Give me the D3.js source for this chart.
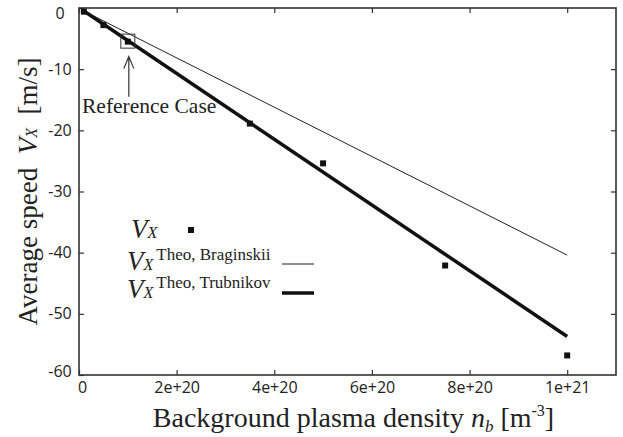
<!DOCTYPE html>
<html>
<head>
<meta charset="utf-8">
<script src="https://cdn.jsdelivr.net/npm/d3@7"></script>
<style>
  body { margin: 0; background: #fff; }
  svg { display: block; }
  .tick text { font-family: "Open Sans", sans-serif; font-size: 16px; fill: #222; }
  .serif { font-family: "Liberation Serif", "Times New Roman", serif; fill: #222; }
</style>
</head>
<body>
<svg id="chart"></svg>
<script>
// chart size
const width = 623;
const height = 437;
const margin = { top: 8, right: 7, bottom: 62, left: 79 };

// measured points (density in m^-3, speed in m/s)
const density = [1e19, 5e19, 1e20, 3.5e20, 5e20, 7.5e20, 1e21];
const speed = [-0.6, -2.8, -5.5, -18.9, -25.4, -42.1, -56.8];

// theory lines (end points)
const theoDensity = [1e19, 1e21];
const braginskii = [-0.5, -40.4];
const trubnikov = [-0.5, -53.7];

// ticks
const xTicks = [0, 2e20, 4e20, 6e20, 8e20, 1e21];
const yTicks = [0, -10, -20, -30, -40, -50, -60];

// reference case
const refDensity = 1e20;
const refSpeed = -5.5;

const svg = d3.select("#chart")
    .attr("width", width)
    .attr("height", height);

const x = d3.scaleLinear()
    .domain([0, 1.1e21])
    .range([margin.left, width - margin.right]);

const y = d3.scaleLinear()
    .domain([-60, 0])
    .range([height - margin.bottom, margin.top]);

const fmtX = d => d === 0 ? "0" : d.toExponential();

// bottom axis with labels, inward ticks
const gx = svg.append("g")
    .attr("transform", `translate(0,${height - margin.bottom})`)
    .call(d3.axisBottom(x).tickValues(xTicks).tickFormat(fmtX)
        .tickSizeInner(-5).tickSizeOuter(0).tickPadding(7));
gx.selectAll(".tick").filter(d => d === 0).select("text").attr("dx", 3);

// left axis (plain hyphen for minus, labels centred like the original)
const gy = svg.append("g")
    .attr("transform", `translate(${margin.left},0)`)
    .call(d3.axisLeft(y).tickValues(yTicks).tickFormat(d => String(d))
        .tickSizeInner(-5).tickSizeOuter(0).tickPadding(19));
gy.selectAll(".tick text").attr("text-anchor", "middle");
gy.selectAll(".tick").filter(d => d === 0).select("text").attr("dy", "0.65em");
gy.selectAll(".tick").filter(d => d === -60).select("text").attr("dy", "0.1em");

// top and right axes, ticks only
svg.append("g")
    .attr("transform", `translate(0,${margin.top})`)
    .call(d3.axisTop(x).tickValues(xTicks).tickFormat("")
        .tickSizeInner(-5).tickSizeOuter(0));
svg.append("g")
    .attr("transform", `translate(${width - margin.right},0)`)
    .call(d3.axisRight(y).tickValues(yTicks.slice(1, -1)).tickFormat("")
        .tickSizeInner(-5).tickSizeOuter(0));

svg.selectAll(".domain").remove();
svg.selectAll(".tick line").attr("stroke", "#333").attr("stroke-width", 1.2);

// frame
svg.append("rect")
    .attr("x", margin.left)
    .attr("y", margin.top)
    .attr("width", width - margin.left - margin.right)
    .attr("height", height - margin.top - margin.bottom)
    .attr("fill", "none")
    .attr("stroke", "#333")
    .attr("stroke-width", 1.6);

// theory lines
const line = d3.line()
    .x(d => x(d[0]))
    .y(d => y(d[1]));

svg.append("path")
    .datum(d3.zip(theoDensity, braginskii))
    .attr("d", line)
    .attr("fill", "none")
    .attr("stroke", "#222")
    .attr("stroke-width", 1);

svg.append("path")
    .datum(d3.zip(theoDensity, trubnikov))
    .attr("d", line)
    .attr("fill", "none")
    .attr("stroke", "#111")
    .attr("stroke-width", 3.5);

// data points
const ms = 6;
svg.selectAll(".pt")
    .data(d3.zip(density, speed))
    .enter()
    .append("rect")
    .attr("class", "pt")
    .attr("x", d => x(d[0]) - ms / 2)
    .attr("y", d => y(d[1]) - ms / 2)
    .attr("width", ms)
    .attr("height", ms)
    .attr("fill", "#111");

// reference case annotation
const rx = x(refDensity), ry = y(refSpeed);
svg.append("rect")
    .attr("x", rx - 7)
    .attr("y", ry - 7.5)
    .attr("width", 14)
    .attr("height", 14)
    .attr("fill", "none")
    .attr("stroke", "#333")
    .attr("stroke-width", 1);

const ax = rx + 1;
svg.append("path")
    .attr("d", `M${ax},${ry + 55} L${ax},${ry + 15} M${ax - 5},${ry + 27} L${ax},${ry + 15} L${ax + 5},${ry + 27}`)
    .attr("fill", "none")
    .attr("stroke", "#333")
    .attr("stroke-width", 1.2);

svg.append("text")
    .attr("class", "serif")
    .attr("x", 82)
    .attr("y", 113)
    .attr("font-size", 21.5)
    .text("Reference Case");

// legend
const legendRows = [
    { sup: "", y: 238, vx: 131 },
    { sup: "Theo, Braginskii", y: 270, vx: 127 },
    { sup: "Theo, Trubnikov", y: 298, vx: 127 }
];

legendRows.forEach(r => {
    const t = svg.append("text")
        .attr("class", "serif")
        .attr("x", r.vx)
        .attr("y", r.y);
    t.append("tspan").attr("font-size", 27).attr("font-style", "italic").text("V");
    t.append("tspan").attr("font-size", 16).attr("font-style", "italic").text("X");
    if (r.sup) {
        t.append("tspan").attr("font-size", 17).attr("dx", 3).attr("dy", -10).text(r.sup);
    }
});

svg.append("rect")
    .attr("x", 191 - ms / 2)
    .attr("y", 230 - ms / 2)
    .attr("width", ms)
    .attr("height", ms)
    .attr("fill", "#111");

svg.append("line")
    .attr("x1", 282).attr("x2", 314)
    .attr("y1", 264).attr("y2", 264)
    .attr("stroke", "#444")
    .attr("stroke-width", 1.2);

svg.append("line")
    .attr("x1", 282).attr("x2", 314)
    .attr("y1", 293).attr("y2", 293)
    .attr("stroke", "#111")
    .attr("stroke-width", 3.5);

// axis titles
const xt = svg.append("text")
    .attr("class", "serif")
    .attr("x", (margin.left + width - margin.right) / 2 + 6)
    .attr("y", 427)
    .attr("text-anchor", "middle")
    .attr("font-size", 28);
xt.append("tspan").text("Background plasma density ");
xt.append("tspan").attr("font-style", "italic").text("n");
xt.append("tspan").attr("font-style", "italic").attr("font-size", 17).attr("dy", 5).text("b");
xt.append("tspan").attr("dy", -5).text(" [m");
xt.append("tspan").attr("font-size", 16).attr("dy", -11).text("-3");
xt.append("tspan").attr("dy", 11).text("]");

const yt = svg.append("text")
    .attr("class", "serif")
    .attr("transform", `translate(37,${(margin.top + height - margin.bottom) / 2}) rotate(-90)`)
    .attr("text-anchor", "middle")
    .attr("font-size", 27);
yt.append("tspan").text("Average speed\u00a0\u00a0");
yt.append("tspan").attr("font-style", "italic").text("V");
yt.append("tspan").attr("font-style", "italic").attr("font-size", 16).text("X");
yt.append("tspan").text("\u00a0\u00a0[m/s]");
</script>
</body>
</html>
